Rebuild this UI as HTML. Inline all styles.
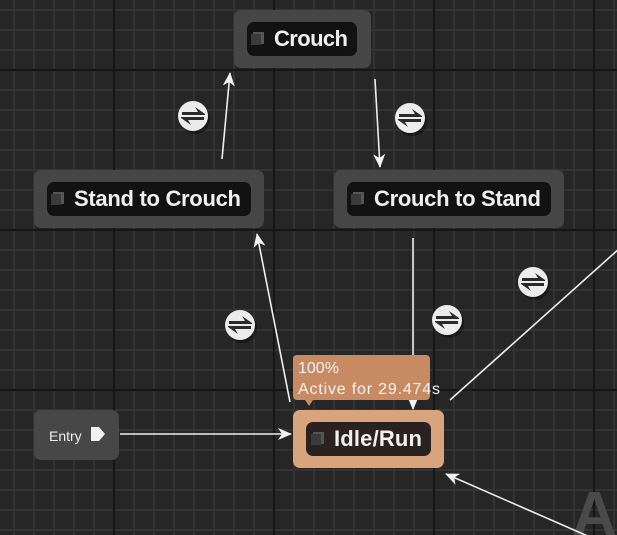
<!DOCTYPE html>
<html><head><style>
html,body{margin:0;padding:0;background:#262626;}
svg{display:block}
.lbl{font-family:"Liberation Sans",sans-serif;font-weight:bold;font-size:22px;fill:#f0f0f0}
</style></head><body>
<svg width="617" height="535" viewBox="0 0 617 535" xmlns="http://www.w3.org/2000/svg">
<defs>
<pattern id="minor" x="13" y="9" width="20" height="20" patternUnits="userSpaceOnUse">
<rect width="20" height="20" fill="#262626"/>
<rect x="0" y="0" width="2" height="20" fill="#333333"/>
<rect x="0" y="0" width="20" height="2" fill="#333333"/>
</pattern>
<g id="tr">
<circle r="15" fill="#000" opacity="0.35" cx="2" cy="3"/>
<circle r="15" fill="#ececec"/>
<path d="M-11,-4 L5,-4 L2,-9 L12,-2 L12,-1 L-11,-1Z" fill="#2a2a2a"/>
<path d="M11,4 L-5,4 L-2,9 L-12,2 L-12,1 L11,1Z" fill="#2a2a2a"/>
</g>
<marker id="ah" markerWidth="14" markerHeight="14" refX="13" refY="7" orient="auto" markerUnits="userSpaceOnUse">
<path d="M0,1 L14,7 L0,13 L4,7Z" fill="#f2f2f2"/>
</marker>
</defs>
<rect width="617" height="535" fill="url(#minor)"/>
<g fill="#161616">
<rect x="113" y="0" width="2" height="535"/><rect x="273" y="0" width="2" height="535"/>
<rect x="433" y="0" width="2" height="535"/><rect x="593" y="0" width="2" height="535"/>
<rect x="0" y="69" width="617" height="2"/><rect x="0" y="229" width="617" height="2"/>
<rect x="0" y="389" width="617" height="2"/>
</g>
<text x="572" y="535" font-family="Liberation Sans,sans-serif" font-weight="bold" font-size="62" fill="#4a4a4a">A</text>

<g stroke="#eeeeee" stroke-width="1.6" fill="none">
<line x1="222" y1="159" x2="230" y2="73" marker-end="url(#ah)"/>
<line x1="375" y1="79" x2="380" y2="167" marker-end="url(#ah)"/>
<line x1="290" y1="402" x2="257" y2="234" marker-end="url(#ah)"/>
<line x1="413" y1="238" x2="413" y2="409" marker-end="url(#ah)"/>
<line x1="450" y1="400" x2="620" y2="248"/>
<line x1="590" y1="537" x2="446" y2="474" marker-end="url(#ah)"/>
<line x1="120" y1="434" x2="291" y2="434" marker-end="url(#ah)"/>
</g>

<use href="#tr" x="193" y="116"/>
<use href="#tr" x="410" y="118"/>
<use href="#tr" x="240" y="325"/>
<use href="#tr" x="447" y="320"/>
<use href="#tr" x="533" y="282"/>

<rect x="234" y="10" width="137" height="58" rx="7" fill="#464646"/>
<rect x="247" y="22" width="110" height="34" rx="7" fill="#121212"/>
<rect x="253" y="32" width="11" height="12" fill="#555"/><rect x="251" y="34" width="10" height="11" fill="#3a3a3a"/>
<text x="274" y="46" class="lbl" textLength="74">Crouch</text>

<rect x="34" y="170" width="230" height="58" rx="7" fill="#464646"/>
<rect x="47" y="182" width="204" height="34" rx="7" fill="#121212"/>
<rect x="53" y="192" width="11" height="12" fill="#555"/><rect x="51" y="194" width="10" height="11" fill="#3a3a3a"/>
<text x="74" y="206" class="lbl" textLength="167">Stand to Crouch</text>

<rect x="334" y="170" width="230" height="58" rx="7" fill="#464646"/>
<rect x="347" y="182" width="204" height="34" rx="7" fill="#121212"/>
<rect x="353" y="192" width="11" height="12" fill="#555"/><rect x="351" y="194" width="10" height="11" fill="#3a3a3a"/>
<text x="374" y="206" class="lbl" textLength="167">Crouch to Stand</text>

<rect x="34" y="410" width="85" height="50" rx="7" fill="#474747"/>
<text x="49" y="441" font-family="Liberation Sans,sans-serif" font-size="14" fill="#eee">Entry</text>
<path d="M91,427 L99,427 L105,434 L99,441 L91,441Z" fill="#f2f2f2"/>

<rect x="293" y="355" width="137" height="45" rx="4" fill="#c88a62"/>
<path d="M305,400 L313,400 L309,406Z" fill="#c88a62"/>
<text x="298" y="373" font-family="Liberation Sans,sans-serif" font-size="16" fill="#f4f4f4">100%</text>
<text x="298" y="394" font-family="Liberation Sans,sans-serif" font-size="16" fill="#f4f4f4" textLength="142">Active for 29.474s</text>

<rect x="293" y="410" width="151" height="58" rx="7" fill="#d8a47c"/>
<rect x="306" y="422" width="125" height="34" rx="7" fill="#2a2220"/>
<rect x="313" y="432" width="11" height="12" fill="#555"/><rect x="311" y="434" width="10" height="11" fill="#3a3a3a"/>
<text x="334" y="446" class="lbl" textLength="88">Idle/Run</text>
</svg>
</body></html>
